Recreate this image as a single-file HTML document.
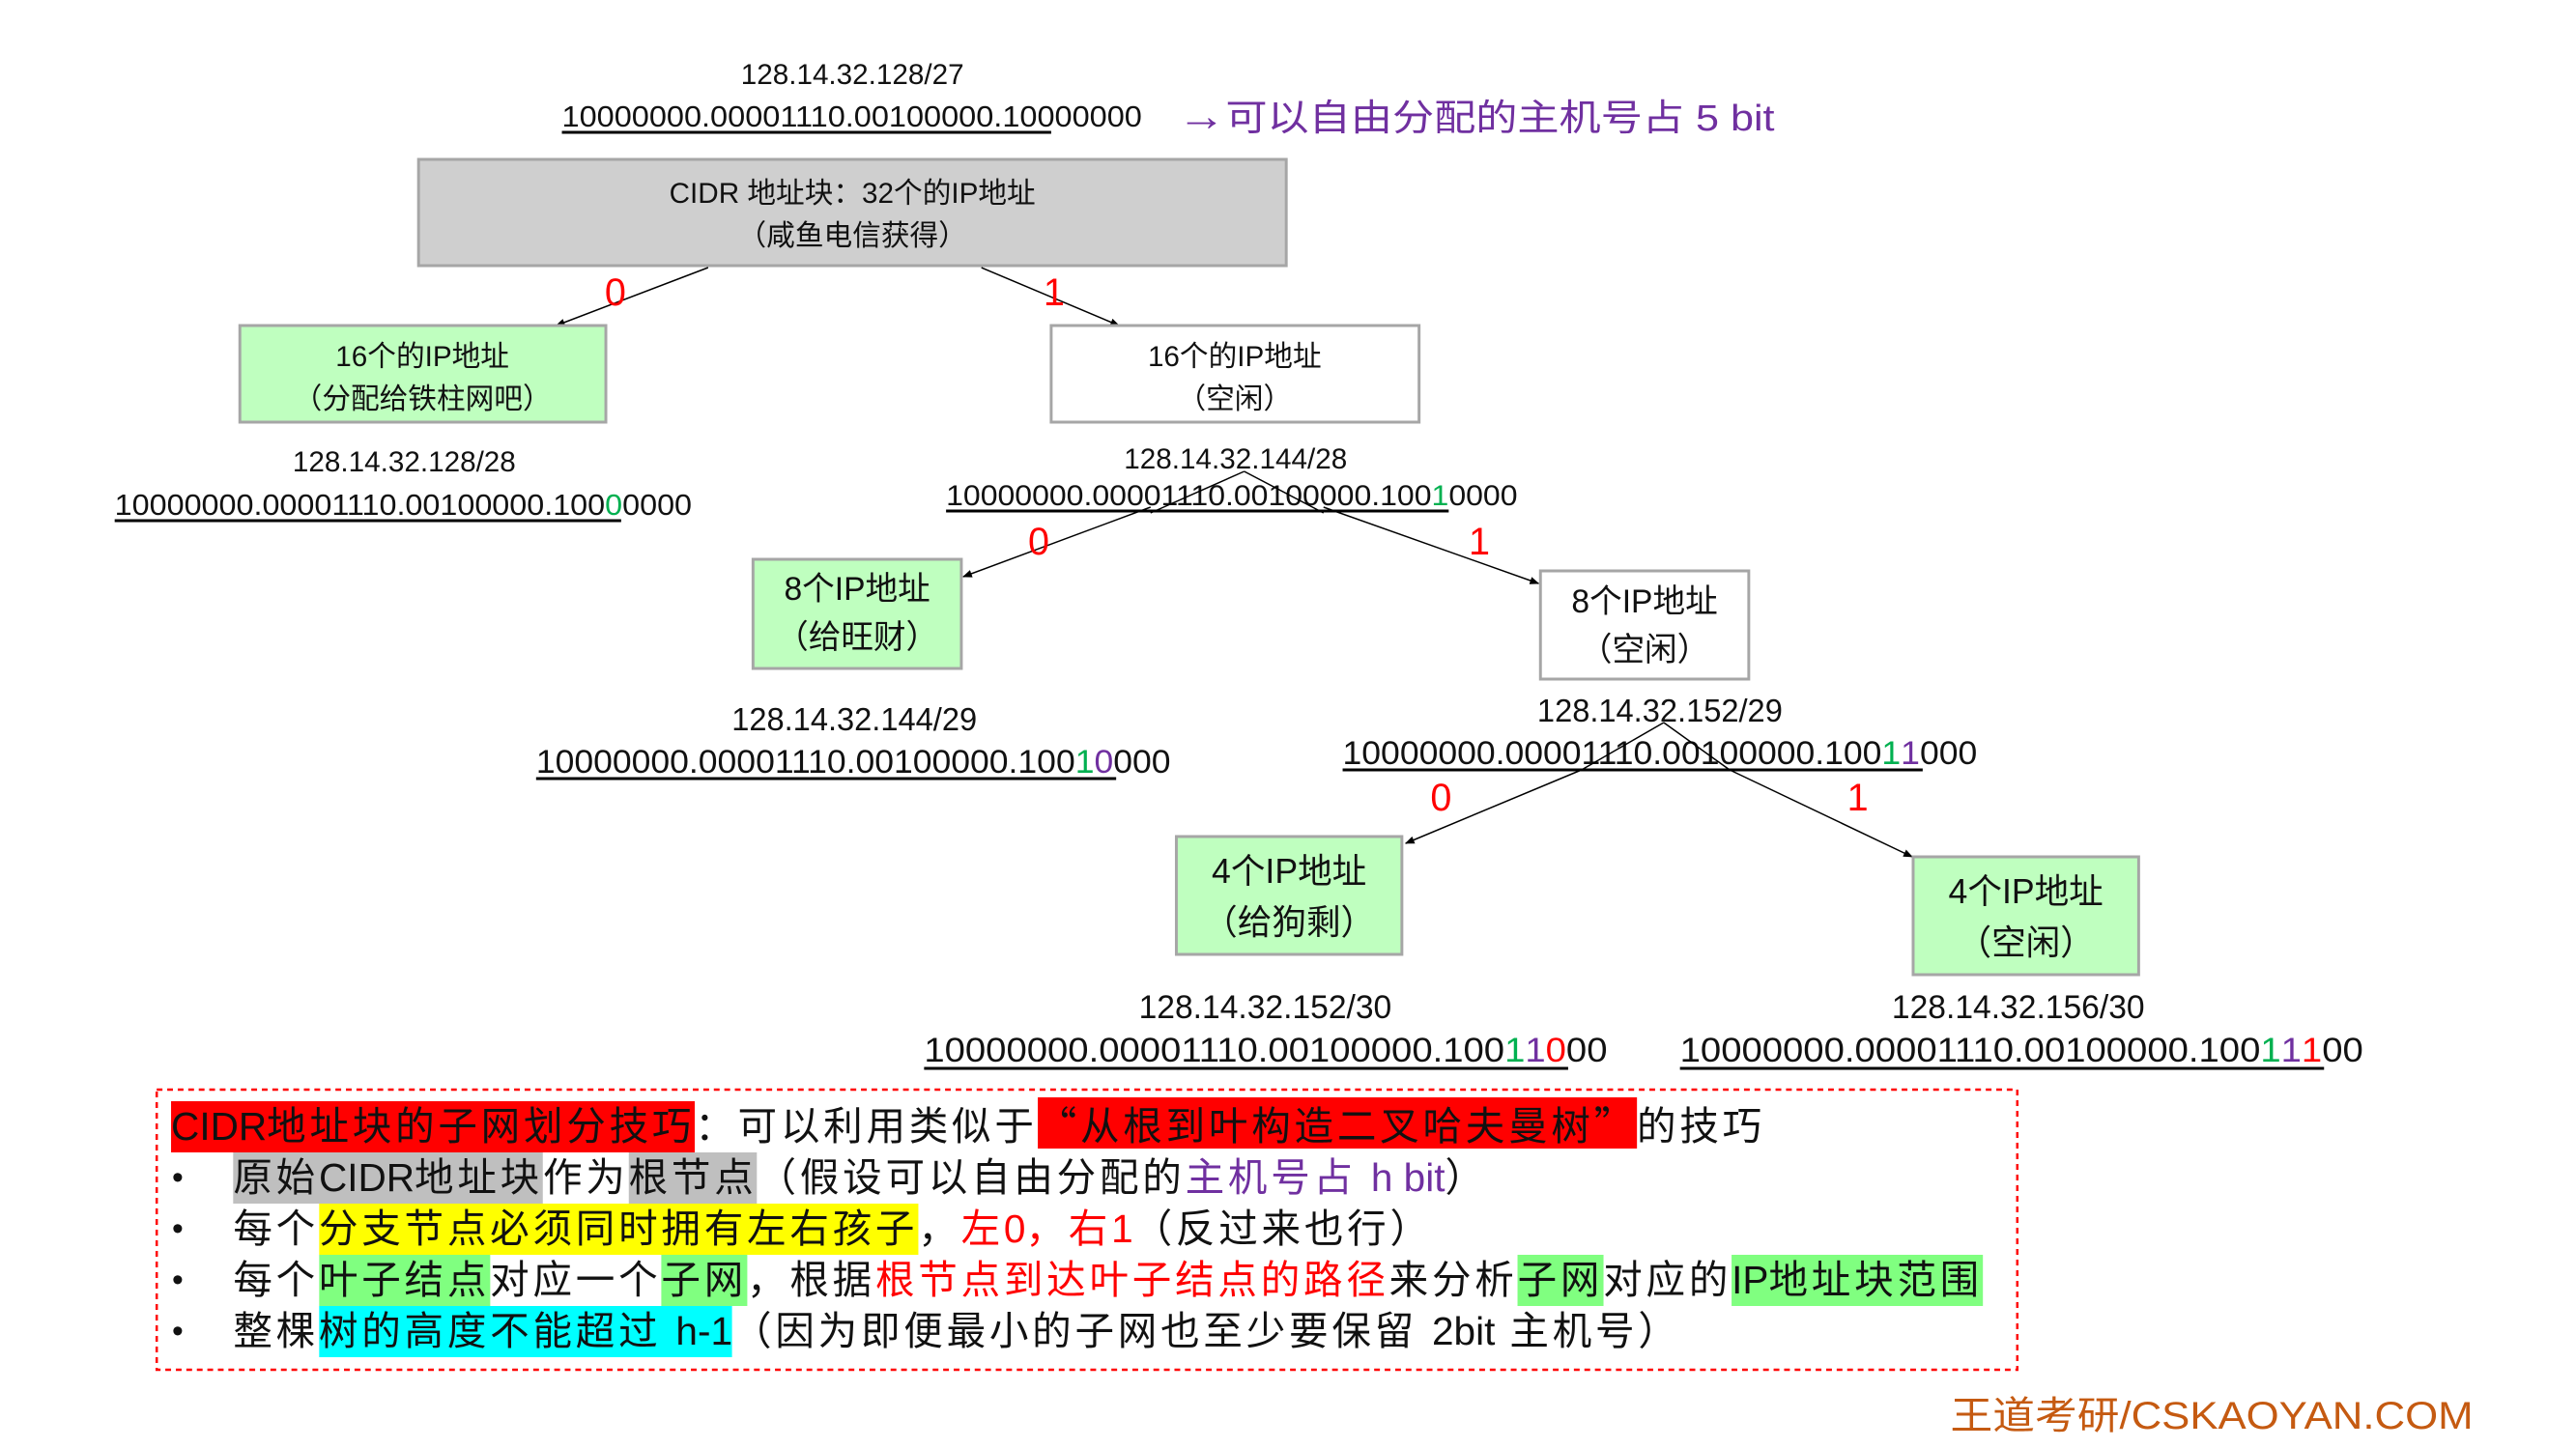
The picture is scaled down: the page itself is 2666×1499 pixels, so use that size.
<!DOCTYPE html>
<html><head><meta charset="utf-8"><style>
html,body{margin:0;padding:0;background:#fff;}
body{width:2666px;height:1499px;position:relative;overflow:hidden;font-family:"Liberation Sans","Noto Sans CJK SC",sans-serif;}
#wrap{position:absolute;left:0;top:0;width:2666px;height:1499px;transform:scale(0.989,1);transform-origin:0 0;}
svg{position:absolute;left:0;top:0;}
.bl{position:absolute;left:0;white-space:nowrap;font-size:41px;letter-spacing:3.8px;line-height:53px;height:53px;font-family:"Liberation Sans","Noto Sans CJK SC",sans-serif;color:#111;}
.bl span{display:inline-block;line-height:53px;height:53px;}
.bl span.l{letter-spacing:0;display:inline;}
.r{background:#ff0000;} .g{background:#bfbfbf;} .y{background:#ffff00;} .gr{background:#80ff80;} .c{background:#00ffff;}
.red{color:#ff0000;} .pu{color:#7030a0;}
.q{font-family:"Noto Sans CJK SC",sans-serif;}
.dot{position:absolute;left:180px;font-size:34px;letter-spacing:0;}
</style></head><body><div id="wrap">
<svg width="2666" height="1499" viewBox="0 0 2666 1499" font-family="Liberation Sans, Noto Sans CJK SC, sans-serif">
<defs><marker id="a" markerWidth="10" markerHeight="10" refX="9" refY="5" orient="auto" markerUnits="userSpaceOnUse"><path d="M0,1 L10,5 L0,9 z" fill="#000"/></marker></defs>
<text x="892" y="87" font-size="30" text-anchor="middle" fill="#111">128.14.32.128/27</text>
<text x="588" y="131" font-size="31" textLength="607" lengthAdjust="spacingAndGlyphs" fill="#111">10000000.00001110.00100000.10000000</text>
<line x1="588" y1="137" x2="1100" y2="137" stroke="#000" stroke-width="3"/>
<text x="1232" y="135" font-size="38" fill="#7030a0" textLength="625" lengthAdjust="spacingAndGlyphs"><tspan font-size="44" font-weight="bold">→</tspan>可以自由分配的主机号占 5 bit</text>
<rect x="438" y="165" width="908" height="110" fill="#cfcfcf" stroke="#a6a6a6" stroke-width="3"/>
<text x="892" y="210" font-size="30" text-anchor="middle" fill="#111">CIDR 地址块：32个的IP地址</text>
<text x="892" y="254" font-size="30" text-anchor="middle" fill="#111">（咸鱼电信获得）</text>
<line x1="741" y1="277" x2="582" y2="337" stroke="#000" stroke-width="1.5" marker-end="url(#a)"/>
<line x1="1027" y1="277" x2="1171" y2="337" stroke="#000" stroke-width="1.5" marker-end="url(#a)"/>
<text x="644" y="316" font-size="40" fill="#ff0000" text-anchor="middle">0</text>
<text x="1103" y="316" font-size="40" fill="#ff0000" text-anchor="middle">1</text>
<rect x="251" y="337" width="383" height="100" fill="#bfffbf" stroke="#a6a6a6" stroke-width="3"/>
<text x="442" y="379" font-size="30" text-anchor="middle" fill="#111">16个的IP地址</text>
<text x="442" y="423" font-size="30" text-anchor="middle" fill="#111">（分配给铁柱网吧）</text>
<rect x="1100" y="337" width="385" height="100" fill="#fff" stroke="#a6a6a6" stroke-width="3"/>
<text x="1292" y="379" font-size="30" text-anchor="middle" fill="#111">16个的IP地址</text>
<text x="1292" y="423" font-size="30" text-anchor="middle" fill="#111">（空闲）</text>
<g transform="translate(0,-6)">
<text x="423" y="494" font-size="30" text-anchor="middle" fill="#111">128.14.32.128/28</text>
<text x="120" y="539" font-size="31" textLength="604" lengthAdjust="spacingAndGlyphs" fill="#111">10000000.00001110.00100000.100<tspan fill="#00b050">0</tspan>0000</text>
<line x1="120" y1="545" x2="650" y2="545" stroke="#000" stroke-width="3"/>
<text x="1293" y="491" font-size="30" text-anchor="middle" fill="#111">128.14.32.144/28</text>
<text x="990" y="529" font-size="30" textLength="598" lengthAdjust="spacingAndGlyphs" fill="#111">10000000.00001110.00100000.100<tspan fill="#00b050">1</tspan>0000</text>
<line x1="990" y1="535" x2="1516" y2="535" stroke="#000" stroke-width="3"/>
<line x1="1302" y1="494" x2="1204" y2="537" stroke="#000" stroke-width="1.5"/>
<line x1="1302" y1="494" x2="1385" y2="537" stroke="#000" stroke-width="1.5"/>
</g>
<g transform="translate(0,-8)">
<line x1="1204" y1="533" x2="1008" y2="605" stroke="#000" stroke-width="1.5" marker-end="url(#a)"/>
<line x1="1385" y1="533" x2="1610" y2="612" stroke="#000" stroke-width="1.5" marker-end="url(#a)"/>
<text x="1087" y="582" font-size="40" fill="#ff0000" text-anchor="middle">0</text>
<text x="1548" y="582" font-size="40" fill="#ff0000" text-anchor="middle">1</text>
<rect x="788" y="587" width="218" height="113" fill="#bfffbf" stroke="#a6a6a6" stroke-width="3"/>
<text x="897" y="629" font-size="34" text-anchor="middle" fill="#111">8个IP地址</text>
<text x="897" y="679" font-size="34" text-anchor="middle" fill="#111">（给旺财）</text>
<rect x="1612" y="599" width="218" height="112" fill="#fff" stroke="#a6a6a6" stroke-width="3"/>
<text x="1721" y="642" font-size="34" text-anchor="middle" fill="#111">8个IP地址</text>
<text x="1721" y="692" font-size="34" text-anchor="middle" fill="#111">（空闲）</text>
<text x="894" y="764" font-size="33" text-anchor="middle" fill="#111">128.14.32.144/29</text>
<text x="561" y="808" font-size="34" textLength="664" lengthAdjust="spacingAndGlyphs" fill="#111">10000000.00001110.00100000.100<tspan fill="#00b050">1</tspan><tspan fill="#7030a0">0</tspan>000</text>
<line x1="561" y1="814" x2="1168" y2="814" stroke="#000" stroke-width="3"/>
<text x="1737" y="755" font-size="33" text-anchor="middle" fill="#111">128.14.32.152/29</text>
<text x="1405" y="799" font-size="34" textLength="664" lengthAdjust="spacingAndGlyphs" fill="#111">10000000.00001110.00100000.100<tspan fill="#00b050">1</tspan><tspan fill="#7030a0">1</tspan>000</text>
<line x1="1405" y1="805" x2="2012" y2="805" stroke="#000" stroke-width="3"/>
<line x1="1741" y1="756" x2="1655" y2="805" stroke="#000" stroke-width="1.5"/>
<line x1="1741" y1="756" x2="1810" y2="805" stroke="#000" stroke-width="1.5"/>
</g>
<line x1="1655" y1="797" x2="1471" y2="873" stroke="#000" stroke-width="1.5" marker-end="url(#a)"/>
<line x1="1810" y1="797" x2="2001" y2="887" stroke="#000" stroke-width="1.5" marker-end="url(#a)"/>
<g transform="translate(0,-11)">
<text x="1508" y="850" font-size="40" fill="#ff0000" text-anchor="middle">0</text>
<text x="1944" y="850" font-size="40" fill="#ff0000" text-anchor="middle">1</text>
<rect x="1231" y="877" width="236" height="122" fill="#bfffbf" stroke="#a6a6a6" stroke-width="3"/>
<text x="1349" y="925" font-size="36" text-anchor="middle" fill="#111">4个IP地址</text>
<text x="1349" y="978" font-size="36" text-anchor="middle" fill="#111">（给狗剩）</text>
<rect x="2002" y="898" width="236" height="122" fill="#bfffbf" stroke="#a6a6a6" stroke-width="3"/>
<text x="2120" y="946" font-size="36" text-anchor="middle" fill="#111">4个IP地址</text>
<text x="2120" y="999" font-size="36" text-anchor="middle" fill="#111">（空闲）</text>
<text x="1324" y="1065" font-size="34" text-anchor="middle" fill="#111">128.14.32.152/30</text>
<text x="967" y="1110" font-size="35" textLength="715" lengthAdjust="spacingAndGlyphs" fill="#111">10000000.00001110.00100000.100<tspan fill="#00b050">1</tspan><tspan fill="#7030a0">1</tspan><tspan fill="#ff0000">0</tspan>00</text>
<line x1="967" y1="1117" x2="1641" y2="1117" stroke="#000" stroke-width="3"/>
<text x="2112" y="1065" font-size="34" text-anchor="middle" fill="#111">128.14.32.156/30</text>
<text x="1758" y="1110" font-size="35" textLength="715" lengthAdjust="spacingAndGlyphs" fill="#111">10000000.00001110.00100000.100<tspan fill="#00b050">1</tspan><tspan fill="#7030a0">1</tspan><tspan fill="#ff0000">1</tspan>00</text>
<line x1="1758" y1="1117" x2="2432" y2="1117" stroke="#000" stroke-width="3"/>
</g>
<rect x="164" y="1128" width="1947" height="290" fill="none" stroke="#ff0000" stroke-width="2.5" stroke-dasharray="6,5"/>
<text x="2041" y="1479" font-size="40" fill="#c55a11" textLength="547" lengthAdjust="spacingAndGlyphs">王道考研/CSKAOYAN.COM</text>
</svg>
<div class="bl" style="left:179px;top:1136px;"><span class="r"><span class="l">CIDR</span>地址块的子网划分技巧</span>：可以利用类似于<span class="r"><span class="q">“</span>从根到叶构造二叉哈夫曼树<span class="q">”</span></span>的技巧</div>
<div class="bl dot" style="top:1193px;">•</div>
<div class="bl" style="left:244px;top:1193px;"><span class="g">原始<span class="l">CIDR</span>地址块</span>作为<span class="g">根节点</span>（假设可以自由分配的<span class="pu">主机号占 <span class="l">h bit</span></span>）</div>
<div class="bl dot" style="top:1246px;">•</div>
<div class="bl" style="left:244px;top:1246px;">每个<span class="y">分支节点必须同时拥有左右孩子</span>，<span class="red">左<span class="l">0</span>，右<span class="l">1</span></span>（反过来也行）</div>
<div class="bl dot" style="top:1299px;">•</div>
<div class="bl" style="left:244px;top:1299px;">每个<span class="gr">叶子结点</span>对应一个<span class="gr">子网</span>，根据<span class="red">根节点到达叶子结点的路径</span>来分析<span class="gr">子网</span>对应的<span class="gr"><span class="l">IP</span>地址块范围</span></div>
<div class="bl dot" style="top:1352px;">•</div>
<div class="bl" style="left:244px;top:1352px;">整棵<span class="c">树的高度不能超过 <span class="l">h-1</span></span>（因为即便最小的子网也至少要保留 <span class="l">2bit</span> 主机号）</div>
</div></body></html>
